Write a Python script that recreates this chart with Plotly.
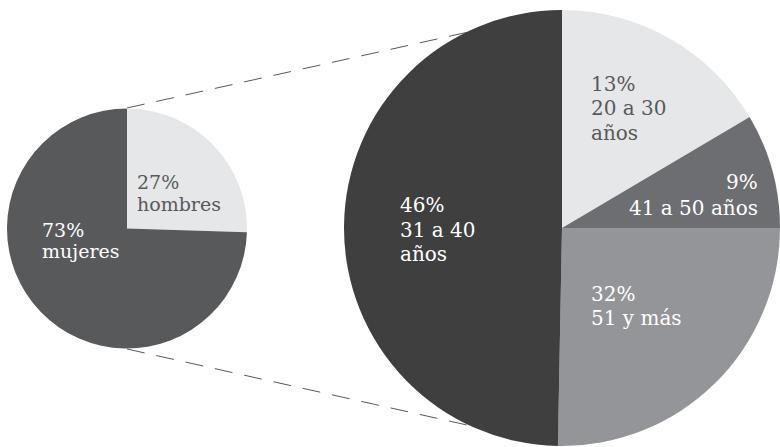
import plotly.graph_objects as go

W, H = 780, 447

# ---- data ----
gender_names = ["hombres", "mujeres"]
gender_pct_labels = ["27%", "73%"]
gender_share = [25.5, 74.5]          # slice sizes
gender_colors = ["#e6e7e8", "#58595b"]

age_groups = ["20 a 30 años", "41 a 50 años", "51 y más", "31 a 40 años"]
age_pct_labels = ["13%", "9%", "32%", "46%"]
age_share = [16.5, 8.5, 25.3, 49.7]  # slice sizes
age_colors = ["#e6e7e8", "#6d6e71", "#939598", "#3f3f40"]

FONT = "DejaVu Serif"
FS = 20

def px(x):
    return x / W

def py(y):
    return 1 - y / H

fig = go.Figure()

# small pie: center (127, 228.5), r 120
fig.add_trace(go.Pie(
    values=gender_share, labels=gender_names, sort=False, direction="clockwise",
    rotation=0, marker=dict(colors=gender_colors, line=dict(width=0)),
    textinfo="none", hoverinfo="skip", showlegend=False,
    domain=dict(x=[px(7), px(247)], y=[py(348.5), py(108.5)]),
))

# big pie: center (562, 228), r 218
fig.add_trace(go.Pie(
    values=age_share, labels=age_groups, sort=False, direction="clockwise",
    rotation=0, marker=dict(colors=age_colors, line=dict(width=0)),
    textinfo="none", hoverinfo="skip", showlegend=False,
    domain=dict(x=[px(344), 1.0], y=[py(446), py(10)]),
))

# dashed connector lines
dash_style = dict(color="#58595b", width=1, dash="18px,12px")
fig.add_shape(type="line", xref="paper", yref="paper",
              x0=px(127), y0=py(108), x1=px(473), y1=py(31), line=dash_style, layer="below")
fig.add_shape(type="line", xref="paper", yref="paper",
              x0=px(127), y0=py(349), x1=px(467), y1=py(425), line=dash_style, layer="below")

DARK_TXT = "#58595b"
LIGHT_TXT = "#ffffff"

def label(lines, x, baselines, color, anchor="left", size=FS):
    for t, b in zip(lines, baselines):
        fig.add_annotation(text=t, x=px(x), y=py(b - 7), xref="paper", yref="paper",
                           xanchor=anchor, yanchor="middle", showarrow=False,
                           font=dict(family=FONT, size=size, color=color))

label([gender_pct_labels[0], gender_names[0]], 135, [189.5, 211], DARK_TXT, size=19)
label([gender_pct_labels[1], gender_names[1]], 40, [236.5, 258], LIGHT_TXT, size=19)

label([age_pct_labels[0], "20 a 30", "años"], 589, [90.7, 115, 140], DARK_TXT)
label([age_pct_labels[1], age_groups[1]], 760, [189, 215], LIGHT_TXT, anchor="right")
label([age_pct_labels[2], age_groups[2]], 589, [300.7, 325], LIGHT_TXT)
label([age_pct_labels[3], "31 a 40", "años"], 398, [212, 236.7, 261], LIGHT_TXT)

fig.update_layout(
    width=W, height=H, margin=dict(l=0, r=0, t=0, b=0),
    paper_bgcolor="white", plot_bgcolor="white",
)

fig.write_html("out.html")
